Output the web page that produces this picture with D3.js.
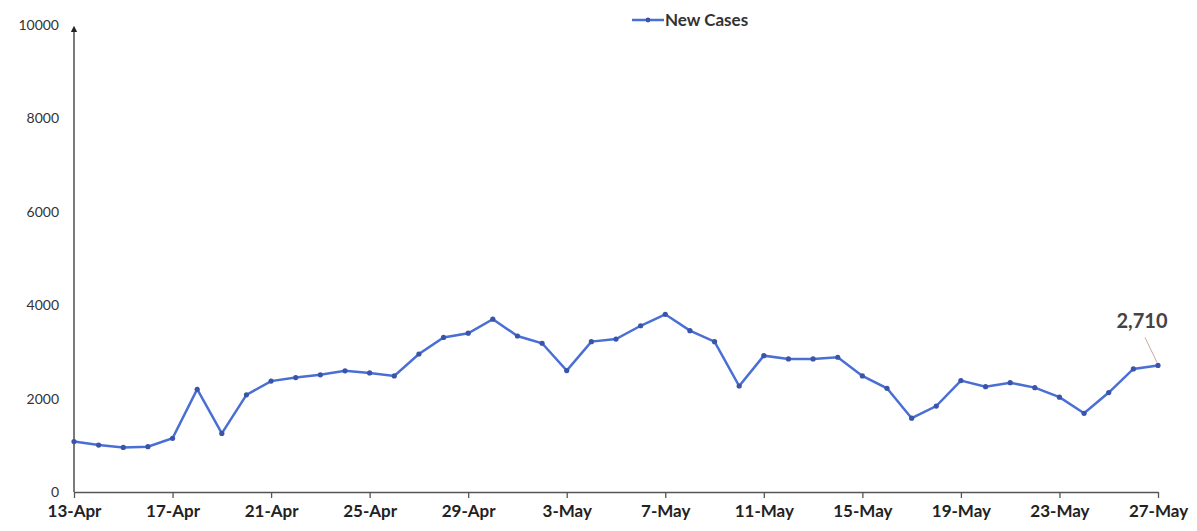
<!DOCTYPE html>
<head>
<meta charset="utf-8">
<style>
body { margin: 0; background: #fff; }
.tick text { font-family: Lato, "Open Sans", sans-serif; }
</style>
</head>
<body>
<script src="https://d3js.org/d3.v7.min.js"></script>
<script>

// Data: daily new cases, 13-Apr to 27-May
var startDate = "2020-04-13";
var newCases = [1080, 1005, 955, 970, 1150, 2200, 1255, 2080, 2375, 2450, 2510, 2595, 2550,
  2485, 2955, 3310, 3400, 3700, 3340, 3185, 2600, 3220, 3275, 3560, 3805, 3455, 3220, 2270,
  2920, 2850, 2850, 2885, 2485, 2220, 1580, 1840, 2385, 2255, 2340, 2235, 2030, 1685, 2130,
  2635, 2710];
var yTicks = [0, 2000, 4000, 6000, 8000, 10000];
var seriesName = "New Cases";
var lastLabel = "2,710";

var width = 1197, height = 531;
var margin = {top: 25, right: 39, bottom: 39, left: 74};

var parse = d3.timeParse("%Y-%m-%d");
var t0 = parse(startDate);
var data = newCases.map(function(v, i) { return {date: d3.timeDay.offset(t0, i), value: v}; });

var x = d3.scaleTime()
    .domain([data[0].date, data[data.length - 1].date])
    .range([margin.left, width - margin.right]);
var y = d3.scaleLinear()
    .domain([0, 10000])
    .range([height - margin.bottom, margin.top]);

var svg = d3.select("body").append("svg")
    .attr("width", width)
    .attr("height", height);

svg.append("defs").append("marker")
    .attr("id", "arrow")
    .attr("viewBox", "0 0 10 10")
    .attr("refX", 5).attr("refY", 5)
    .attr("markerWidth", 5).attr("markerHeight", 6)
    .attr("orient", "auto")
  .append("path")
    .attr("d", "M0,0L10,5L0,10z")
    .attr("fill", "#222");

// y axis (labels only) + arrow line
var yAxis = svg.append("g")
    .attr("transform", "translate(" + margin.left + ",0)")
    .call(d3.axisLeft(y).tickValues(yTicks).tickSize(0).tickPadding(15).tickFormat(d3.format("d")));
yAxis.select(".domain").remove();
yAxis.selectAll("text").attr("font-size", 14).attr("fill", "#333");

svg.append("line")
    .attr("x1", margin.left).attr("x2", margin.left)
    .attr("y1", y(0)).attr("y2", y(10000) + 4)
    .attr("stroke", "#333").attr("stroke-width", 1.3)
    .attr("marker-end", "url(#arrow)");

// x axis
var tickDates = d3.range(0, newCases.length, 4).map(function(i) { return data[i].date; });
var xAxis = svg.append("g")
    .attr("transform", "translate(0," + y(0) + ")")
    .call(d3.axisBottom(x).tickValues(tickDates).tickSize(6).tickSizeOuter(0).tickPadding(7)
      .tickFormat(d3.timeFormat("%-d-%b")));
xAxis.select(".domain").attr("stroke", "#555").attr("stroke-width", 1.5);
xAxis.selectAll(".tick line").attr("stroke", "#555").attr("stroke-width", 1.3);
xAxis.selectAll("text").attr("font-size", 17).attr("font-weight", "bold").attr("fill", "#222");

// line
var line = d3.line()
    .x(function(d) { return x(d.date); })
    .y(function(d) { return y(d.value); });

svg.append("path")
    .datum(data)
    .attr("fill", "none")
    .attr("stroke", "#4a6fd4")
    .attr("stroke-width", 2.5)
    .attr("d", line);

svg.selectAll(".dot")
    .data(data)
  .enter().append("circle")
    .attr("class", "dot")
    .attr("cx", function(d) { return x(d.date); })
    .attr("cy", function(d) { return y(d.value); })
    .attr("r", 2.6)
    .attr("fill", "#3a55a8");

// last value label
var last = data[data.length - 1];
svg.append("line")
    .attr("x1", x(last.date) - 1).attr("y1", y(last.value) - 3)
    .attr("x2", x(last.date) - 13).attr("y2", y(last.value) - 28)
    .attr("stroke", "#c9a9a0").attr("stroke-width", 1);
svg.append("text")
    .attr("x", x(last.date) - 16).attr("y", y(last.value) - 37)
    .attr("text-anchor", "middle")
    .attr("font-family", "Lato, sans-serif")
    .attr("font-size", 20).attr("font-weight", "bold")
    .attr("fill", "#444")
    .text(lastLabel);

// legend
var lg = svg.append("g").attr("transform", "translate(632,20)");
lg.append("line").attr("x1", 0).attr("x2", 32).attr("y1", 0).attr("y2", 0)
    .attr("stroke", "#4a6fd4").attr("stroke-width", 2.5);
lg.append("circle").attr("cx", 16).attr("cy", 0).attr("r", 2.4).attr("fill", "#3a55a8");
lg.append("text").attr("x", 33).attr("y", 6)
    .attr("font-family", "Lato, sans-serif").attr("font-size", 17)
    .attr("font-weight", "bold").attr("fill", "#333")
    .text(seriesName);

</script>
</body>
</html>
